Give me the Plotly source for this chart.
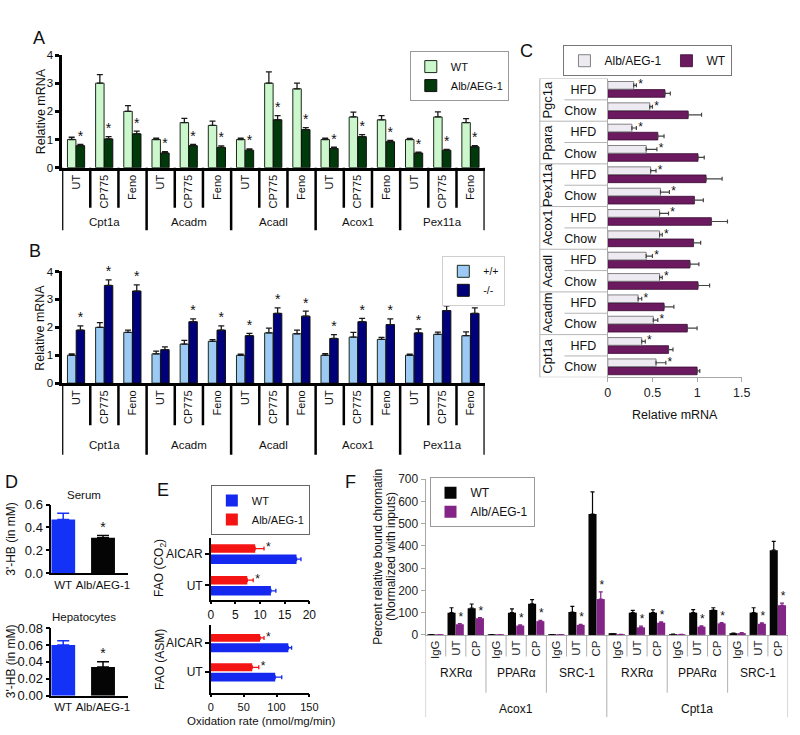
import plotly.graph_objects as go

W, H = 800, 735
FONT = "Arial, 'Liberation Sans', sans-serif"


def px(x):
    return x / W


def py(y):
    return 1 - y / H


# ---------------- data ----------------
genes_AB = ["Cpt1a", "Acadm", "Acadl", "Acox1", "Pex11a"]
treat_AB = ["UT", "CP775", "Feno"]

A_wt = [1.00, 3.00, 2.00, 1.00, 1.60, 1.50, 1.00, 3.00, 2.80, 1.00, 1.80, 1.70, 1.00, 1.80, 1.60]
A_wt_err = [0.08, 0.30, 0.20, 0.05, 0.15, 0.15, 0.05, 0.40, 0.20, 0.05, 0.17, 0.15, 0.04, 0.18, 0.14]
A_alb = [0.78, 1.02, 1.20, 0.52, 0.78, 0.72, 0.62, 1.70, 1.35, 0.68, 1.10, 0.92, 0.52, 0.62, 0.74]
A_alb_err = [0.05, 0.08, 0.10, 0.05, 0.05, 0.05, 0.05, 0.15, 0.07, 0.05, 0.07, 0.05, 0.03, 0.03, 0.04]
A_star = [1] * 15

B_wt = [1.00, 2.00, 1.82, 1.05, 1.40, 1.50, 1.00, 1.80, 1.77, 1.00, 1.65, 1.57, 1.00, 1.75, 1.70]
B_wt_err = [0.05, 0.17, 0.08, 0.10, 0.13, 0.06, 0.04, 0.17, 0.13, 0.06, 0.17, 0.07, 0.04, 0.08, 0.14]
B_ko = [1.90, 3.50, 3.30, 1.20, 2.20, 1.90, 1.70, 2.50, 2.40, 1.60, 2.20, 2.10, 1.80, 2.60, 2.50]
B_ko_err = [0.15, 0.20, 0.22, 0.10, 0.10, 0.15, 0.08, 0.20, 0.18, 0.14, 0.12, 0.20, 0.14, 0.17, 0.20]
B_star = [1, 1, 1, 0, 1, 1, 1, 1, 1, 1, 1, 1, 1, 1, 1]

# panel C (rows listed bottom -> top)
genes_C = ["Cpt1a", "Acadm", "Acadl", "Acox1", "Pex11a", "Ppara", "Pgc1a"]
diet_C = ["Chow", "HFD"]
C_alb = [0.54, 0.38, 0.51, 0.34, 0.58, 0.43, 0.58, 0.58, 0.59, 0.48, 0.43, 0.27, 0.47, 0.29]
C_alb_err = [0.11, 0.04, 0.05, 0.04, 0.03, 0.07, 0.03, 0.10, 0.10, 0.06, 0.12, 0.05, 0.03, 0.03]
C_wt = [1.00, 0.68, 0.89, 0.63, 1.01, 0.92, 0.96, 1.16, 0.97, 1.10, 1.01, 0.56, 0.90, 0.64]
C_wt_err = [0.03, 0.05, 0.11, 0.11, 0.13, 0.10, 0.08, 0.18, 0.10, 0.18, 0.07, 0.07, 0.15, 0.06]

# panel D
D_groups = ["WT", "Alb/AEG-1"]
D_serum = [0.47, 0.31]
D_serum_err = [0.055, 0.02]
D_hep = [0.060, 0.034]
D_hep_err = [0.005, 0.006]

# panel E
E_cond = ["UT", "AICAR"]
E_co2_wt = [12.2, 17.4]
E_co2_wt_err = [1.0, 0.9]
E_co2_alb = [7.4, 9.0]
E_co2_alb_err = [1.2, 1.8]
E_asm_wt = [98, 118]
E_asm_wt_err = [10, 5]
E_asm_alb = [63, 75]
E_asm_alb_err = [10, 6]

# panel F
F_genes = ["Acox1", "Cpt1a"]
F_factors = ["RXRα", "PPARα", "SRC-1"]
F_conds = ["IgG", "UT", "CP"]
F_wt = [1, 100, 120, 1, 100, 140, 1, 103, 543, 4, 100, 100, 3, 100, 112, 6, 100, 381]
F_wt_err = [0, 22, 19, 0, 17, 19, 0, 25, 100, 1, 10, 13, 1, 14, 10, 2, 22, 39]
F_alb = [0.5, 48, 75, 0.5, 42, 62, 0.5, 45, 161, 2, 34, 55, 2, 37, 52, 8, 50, 133]
F_alb_err = [0, 3, 3, 0, 3, 4, 0, 3, 32, 0, 6, 4, 0, 4, 3, 2, 4, 10]

# ---------------- figure ----------------
fig = go.Figure()
shapes = []
annotations = []


def up_err(arr, color, thick=1.3, w=3):
    return dict(type="data", array=arr, arrayminus=[0] * len(arr), symmetric=False,
                color=color, thickness=thick, width=w)


def right_err(arr, color, thick=1.2, w=2):
    return dict(type="data", array=arr, arrayminus=[0] * len(arr), symmetric=False,
                color=color, thickness=thick, width=w)


def note(text, x, y, size=12, xref="paper", yref="paper", angle=0, xanchor="center", yanchor="middle"):
    annotations.append(dict(text=text, x=x, y=y, xref=xref, yref=yref, showarrow=False,
                            textangle=angle, font=dict(size=size, family=FONT, color="#111"),
                            xanchor=xanchor, yanchor=yanchor))


# ----- Panel A & B -----
idx15 = list(range(15))
for (xa, ya, v1, e1, v2, e2, stars, c1, c2, n1, n2, leg) in [
    ("x", "y", A_wt, A_wt_err, A_alb, A_alb_err, A_star, "#ccf7cc", "#003a0a", "WT", "Alb/AEG-1", "legend"),
    ("x2", "y2", B_wt, B_wt_err, B_ko, B_ko_err, B_star, "#9ccaf5", "#00007a", "+/+", "-/-", "legend2"),
]:
    fig.add_trace(go.Bar(x=idx15, y=v1, width=0.3, offset=-0.31, name=n1, legend=leg,
                         marker=dict(color=c1, line=dict(color="#1a2a1a", width=1)),
                         error_y=up_err(e1, "#1a1a1a"), xaxis=xa, yaxis=ya))
    fig.add_trace(go.Bar(x=idx15, y=v2, width=0.3, offset=0.0, name=n2, legend=leg,
                         marker=dict(color=c2, line=dict(color="#111", width=1)),
                         error_y=up_err(e2, "#1a1a1a"), xaxis=xa, yaxis=ya))
    sx = [i + 0.15 for i in idx15 if stars[i]]
    sy = [v2[i] + e2[i] for i in idx15 if stars[i]]
    fig.add_trace(go.Scatter(x=sx, y=sy, mode="text", text=["*"] * len(sx), textposition="top center",
                             textfont=dict(size=14, color="#111", family=FONT), showlegend=False,
                             cliponaxis=False, xaxis=xa, yaxis=ya))

# separators and gene labels for A / B
for (xref, base, short_end, long_end, lab_y) in [("x", 164, 205, 228, 219), ("x2", 384, 427, 457, 447)]:
    for b in range(16):
        yend = long_end if b % 3 == 0 else short_end
        shapes.append(dict(type="line", xref=xref, yref="paper", x0=b - 0.5, x1=b - 0.5,
                           y0=py(base), y1=py(yend), line=dict(color="black", width=2.5)))
    for g, gene in enumerate(genes_AB):
        note(gene, 3 * g + 1, py(lab_y), size=11.5, xref=xref)

# ----- Panel C -----
idx14 = list(range(14))
fig.add_trace(go.Bar(y=idx14, x=C_wt, orientation="h", width=0.36, offset=-0.38, name="WT",
                     legend="legend3", legendrank=2,
                     marker=dict(color="#6b1a60", line=dict(color="#3a0a33", width=0.8)),
                     error_x=right_err(C_wt_err, "#444"), xaxis="x3", yaxis="y3"))
fig.add_trace(go.Bar(y=idx14, x=C_alb, orientation="h", width=0.36, offset=0.0, name="Alb/AEG-1",
                     legend="legend3", legendrank=1,
                     marker=dict(color="#eeeaf2", line=dict(color="#666", width=0.8)),
                     error_x=right_err(C_alb_err, "#444"), xaxis="x3", yaxis="y3"))
fig.add_trace(go.Scatter(x=[C_alb[i] + C_alb_err[i] + 0.02 for i in idx14], y=[i + 0.18 for i in idx14],
                         mode="text", text=["*"] * 14, textposition="middle right",
                         textfont=dict(size=12, color="#111", family=FONT), showlegend=False,
                         cliponaxis=False, xaxis="x3", yaxis="y3"))
for b in range(15):
    xs = px(545) if b % 2 == 0 else px(570)
    shapes.append(dict(type="line", xref="paper", yref="y3", x0=xs, x1=px(614), y0=b - 0.5, y1=b - 0.5,
                       line=dict(color="#b5b5b5", width=1)))
shapes.append(dict(type="line", xref="paper", yref="paper", x0=px(545), x1=px(545), y0=py(378), y1=py(73),
                   line=dict(color="#b5b5b5", width=1)))
for g, gene in enumerate(genes_C):
    note(gene, px(553), 2 * g + 0.5, size=13, yref="y3", angle=-90)

# ----- Panel D -----
for (xa, ya, vals, errs) in [("x4", "y4", D_serum, D_serum_err), ("x5", "y5", D_hep, D_hep_err)]:
    fig.add_trace(go.Bar(x=[0, 1], y=vals, width=0.6, showlegend=False,
                         marker=dict(color=["#1432f5", "#050505"], line=dict(width=0)),
                         xaxis=xa, yaxis=ya))
    for i, col in enumerate(["#1432f5", "#050505"]):
        fig.add_trace(go.Scatter(x=[i], y=[vals[i]], mode="markers", marker=dict(size=1, opacity=0),
                                 error_y=up_err([errs[i]], col, thick=1.5, w=6), showlegend=False,
                                 xaxis=xa, yaxis=ya))
    fig.add_trace(go.Scatter(x=[1], y=[vals[1] + errs[1]], mode="text", text=["*"], textposition="top center",
                             textfont=dict(size=14, color="#111", family=FONT), showlegend=False,
                             cliponaxis=False, xaxis=xa, yaxis=ya))

# ----- Panel E -----
for (xa, ya, wt, wte, alb, albe, show) in [
    ("x6", "y6", E_co2_wt, E_co2_wt_err, E_co2_alb, E_co2_alb_err, True),
    ("x7", "y7", E_asm_wt, E_asm_wt_err, E_asm_alb, E_asm_alb_err, False),
]:
    fig.add_trace(go.Bar(y=[0, 1], x=wt, orientation="h", width=0.3, offset=-0.32, name="WT",
                         legend="legend4", showlegend=show, legendrank=1,
                         marker=dict(color="#1428f0", line=dict(width=0)),
                         error_x=right_err(wte, "#1428f0", thick=1.3, w=2), xaxis=xa, yaxis=ya))
    fig.add_trace(go.Bar(y=[0, 1], x=alb, orientation="h", width=0.27, offset=0.03, name="Alb/AEG-1",
                         legend="legend4", showlegend=show, legendrank=2,
                         marker=dict(color="#f51414", line=dict(width=0)),
                         error_x=right_err(albe, "#f51414", thick=1.3, w=2), xaxis=xa, yaxis=ya))
    rng = 20 if xa == "x6" else 150
    fig.add_trace(go.Scatter(x=[alb[i] + albe[i] + rng * 0.02 for i in range(2)], y=[0.17, 0.17 + 1],
                             mode="text", text=["*", "*"], textposition="middle right",
                             textfont=dict(size=12, color="#111", family=FONT), showlegend=False,
                             cliponaxis=False, xaxis=xa, yaxis=ya))

# ----- Panel F -----
idx18 = list(range(18))
fig.add_trace(go.Bar(x=idx18, y=F_wt, width=0.4, offset=-0.41, name="WT", legend="legend5",
                     marker=dict(color="#050505", line=dict(width=0)),
                     error_y=up_err(F_wt_err, "#050505", thick=1.2, w=2), xaxis="x8", yaxis="y8"))
fig.add_trace(go.Bar(x=idx18, y=F_alb, width=0.4, offset=0.0, name="Alb/AEG-1", legend="legend5",
                     marker=dict(color="#822587", line=dict(width=0)),
                     error_y=up_err(F_alb_err, "#822587", thick=1.2, w=2), xaxis="x8", yaxis="y8"))
fs = [i for i in idx18 if F_conds[i % 3] != "IgG"]
fig.add_trace(go.Scatter(x=[i + 0.25 for i in fs], y=[F_alb[i] + F_alb_err[i] for i in fs], mode="text",
                         text=["*"] * len(fs), textposition="top center",
                         textfont=dict(size=12, color="#111", family=FONT), showlegend=False,
                         cliponaxis=False, xaxis="x8", yaxis="y8"))
for b in range(19):
    if b % 9 == 0:
        yend = 725
    elif b % 3 == 0:
        yend = 700
    else:
        yend = 663
    shapes.append(dict(type="line", xref="x8", yref="paper", x0=b - 0.5, x1=b - 0.5, y0=py(641), y1=py(yend),
                       line=dict(color="#b0b0b0", width=1)))
for gi, gene in enumerate(F_genes):
    note(gene, 9 * gi + 4, py(717), size=12, xref="x8")
    for fi, fac in enumerate(F_factors):
        note(fac, 9 * gi + 3 * fi + 1, py(680), size=12, xref="x8")

# ----- titles / letters -----
note("Relative mRNA", px(38), py(106), size=12.5, angle=-90)
note("Relative mRNA", px(38), py(327), size=12.5, angle=-90)
note("Relative mRNA", px(682), py(417), size=12.5)
note("Serum", px(82), py(498), size=11.5)
note("Hepatocytes", px(82), py(623), size=11.5)
note("3'-HB (in mM)", px(8), py(543), size=12, angle=-90)
note("3'-HB (in mM)", px(8), py(668), size=12, angle=-90)
note("FAO (CO<sub>2</sub>)", px(160), py(573), size=12, angle=-90)
note("FAO (ASM)", px(160), py(666), size=12, angle=-90)
note("Oxidation rate (nmol/mg/min)", px(262), py(729), size=11.5)
note("Percent relative bound chromatin", px(380), py(561), size=12, angle=-90)
note("(Normalized with inputs)", px(393), py(561), size=12, angle=-90)
for letter, x, y in [("A", 37, 32), ("B", 32, 249), ("C", 531, 45), ("D", 9, 485), ("E", 162, 493), ("F", 353, 485)]:
    note(letter, px(x), py(y), size=18)

# ---------------- axes ----------------
def black_axis(**kw):
    d = dict(showline=True, linecolor="black", linewidth=1.5, showgrid=False, zeroline=False,
             ticks="outside", ticklen=4, tickwidth=1.5, tickcolor="black",
             tickfont=dict(size=12, family=FONT, color="#111"), fixedrange=True)
    d.update(kw)
    return d


def gray_axis(**kw):
    d = dict(showline=True, linecolor="#a8a8a8", linewidth=1, showgrid=False, zeroline=False,
             ticks="outside", ticklen=4, tickwidth=1, tickcolor="#a8a8a8",
             tickfont=dict(size=12, family=FONT, color="#222"), fixedrange=True)
    d.update(kw)
    return d


layout = dict(
    width=W, height=H, margin=dict(l=0, r=0, t=0, b=0),
    plot_bgcolor="white", paper_bgcolor="white",
    font=dict(family=FONT, size=12, color="#111"),
    hovermode=False, showlegend=True,
    shapes=shapes, annotations=annotations,
    # A
    xaxis=black_axis(domain=[px(60), px(489)], range=[-0.5, 14.5], anchor="y", linewidth=2.5,
                     tickvals=idx15, ticktext=treat_AB * 5, tickangle=-90, ticks="",
                     tickfont=dict(size=11, family=FONT, color="#111")),
    yaxis=black_axis(domain=[py(164), py(49)], range=[0, 4], dtick=1, anchor="x", linewidth=2.5, tickwidth=2.5,
                     tickfont=dict(size=11.5, family=FONT, color="#111")),
    # B
    xaxis2=black_axis(domain=[px(60), px(489)], range=[-0.5, 14.5], anchor="y2", linewidth=2.5,
                      tickvals=idx15, ticktext=treat_AB * 5, tickangle=-90, ticks="",
                      tickfont=dict(size=11, family=FONT, color="#111")),
    yaxis2=black_axis(domain=[py(384), py(270)], range=[0, 4], dtick=1, anchor="x2", linewidth=2.5, tickwidth=2.5,
                      tickfont=dict(size=11.5, family=FONT, color="#111")),
    # C
    xaxis3=gray_axis(domain=[px(614), px(750)], range=[0, 1.5], anchor="y3",
                     tickvals=[0, 0.5, 1, 1.5], ticktext=["0", "0.5", "1", "1.5"],
                     tickfont=dict(size=12.5, family=FONT, color="#222")),
    yaxis3=gray_axis(domain=[py(378), py(73)], range=[-0.5, 13.5], anchor="x3", ticks="",
                     tickvals=idx14, ticktext=diet_C * 7, ticklabelstandoff=8,
                     tickfont=dict(size=12.5, family=FONT, color="#111")),
    # D
    xaxis4=black_axis(domain=[px(49), px(127)], range=[-0.3, 1.63], anchor="y4", ticks="",
                      tickvals=[0, 1], ticktext=D_groups, tickfont=dict(size=11.5, family=FONT, color="#111")),
    yaxis4=black_axis(domain=[py(578), py(508)], range=[0, 0.6], dtick=0.2, tickformat=".1f", anchor="x4",
                      tickfont=dict(size=13, family=FONT, color="#111")),
    xaxis5=black_axis(domain=[px(49), px(127)], range=[-0.3, 1.63], anchor="y5", ticks="",
                      tickvals=[0, 1], ticktext=D_groups, tickfont=dict(size=11.5, family=FONT, color="#111")),
    yaxis5=black_axis(domain=[py(703), py(634)], range=[0, 0.08], dtick=0.02, tickformat=".2f", anchor="x5",
                      tickfont=dict(size=13, family=FONT, color="#111")),
    # E
    xaxis6=black_axis(domain=[px(211), px(311)], range=[0, 20], dtick=5, anchor="y6", ticklen=3,
                      tickfont=dict(size=12, family=FONT, color="#111")),
    yaxis6=black_axis(domain=[py(605), py(542)], range=[-0.45, 1.5], anchor="x6",
                      tickvals=[0, 1], ticktext=E_cond, tickfont=dict(size=12, family=FONT, color="#111")),
    xaxis7=black_axis(domain=[px(211), px(311)], range=[0, 150], dtick=50, anchor="y7", ticklen=3,
                      tickfont=dict(size=11, family=FONT, color="#111")),
    yaxis7=black_axis(domain=[py(700), py(631)], range=[-0.7, 1.6], anchor="x7",
                      tickvals=[0, 1], ticktext=E_cond, tickfont=dict(size=12, family=FONT, color="#111")),
    # F
    xaxis8=gray_axis(domain=[px(429), px(797)], range=[-0.5, 17.5], anchor="y8", ticks="",
                     tickvals=idx18, ticktext=F_conds * 6, tickangle=-90,
                     tickfont=dict(size=11.5, family=FONT, color="#222")),
    yaxis8=gray_axis(domain=[py(641), py(482)], range=[0, 700], dtick=100, anchor="x8",
                     tickfont=dict(size=12, family=FONT, color="#222")),
    # legends
    legend=dict(x=px(413), y=py(45), xanchor="left", yanchor="top", bgcolor="white",
                bordercolor="#9a9a9a", borderwidth=1, font=dict(size=11, family=FONT), tracegroupgap=0,
                itemwidth=30),
    legend2=dict(x=px(446), y=py(254), xanchor="left", yanchor="top", bgcolor="white",
                 bordercolor="#cfcfcf", borderwidth=1, font=dict(size=10.5, family=FONT), itemwidth=30),
    legend3=dict(x=px(569), y=py(39), xanchor="left", yanchor="top", orientation="h", bgcolor="white",
                 bordercolor="#777", borderwidth=1, font=dict(size=12, family=FONT), itemwidth=30),
    legend4=dict(x=px(211), y=py(488), xanchor="left", yanchor="top", bgcolor="white",
                 bordercolor="#666", borderwidth=1, font=dict(size=11, family=FONT), itemwidth=30),
    legend5=dict(x=px(433), y=py(480), xanchor="left", yanchor="top", bgcolor="white",
                 bordercolor="#9a9a9a", borderwidth=1, font=dict(size=12, family=FONT), itemwidth=30),
)
fig.update_layout(**layout)
fig.write_html("out.html", config={"displayModeBar": False},
               post_script="document.body.style.margin='0px';")
